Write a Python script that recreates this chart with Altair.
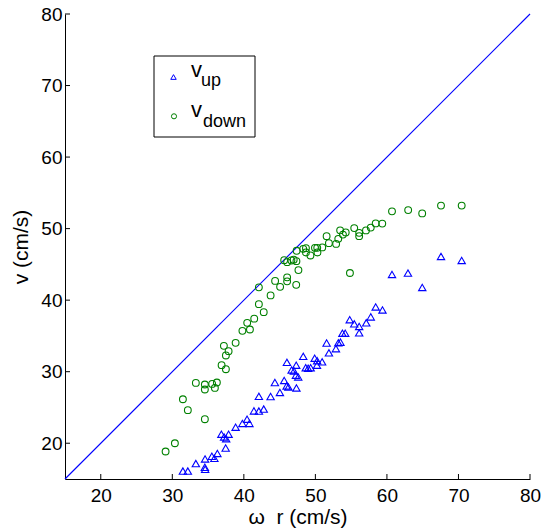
import altair as alt
import pandas as pd

# ---------------- data ----------------
up_x = [31.48, 32.17, 33.29, 34.58, 34.55, 34.59, 35.53, 35.88, 36.30, 37.46,
        36.86, 37.24, 37.53, 37.87, 38.85, 39.80, 40.45, 40.78, 41.41, 42.10,
        42.78, 42.10, 43.74, 44.34, 45.04, 45.64, 45.98, 46.23, 47.35, 46.02,
        46.68, 47.00, 47.32, 47.28, 47.60, 48.30, 48.65, 48.99, 49.34, 49.90,
        50.25, 50.94, 50.22, 51.57, 51.89, 52.87, 53.20, 53.50, 53.78, 54.17,
        54.80, 55.43, 56.12, 56.12, 57.11, 57.74, 58.43, 59.38, 60.71, 62.94,
        64.94, 67.56, 70.45]
up_y = [16.11, 16.11, 17.16, 17.80, 16.64, 16.36, 18.18, 17.90, 18.57, 19.33,
        21.26, 20.88, 20.63, 21.26, 22.24, 22.77, 23.36, 22.77, 24.52, 24.50,
        24.78, 26.55, 26.53, 28.49, 27.10, 28.77, 28.01, 27.87, 27.73, 31.30,
        30.24, 30.11, 30.91, 29.51, 29.27, 32.14, 30.56, 30.49, 30.56, 31.89,
        31.54, 31.37, 30.91, 34.01, 32.63, 33.22, 34.03, 34.13, 35.38, 35.38,
        37.27, 36.69, 36.32, 35.43, 36.83, 37.66, 39.05, 38.63, 43.59, 43.78,
        41.78, 46.11, 45.55]

down_x = [29.06, 30.36, 31.48, 32.17, 33.29, 34.55, 34.55, 34.55, 35.57, 36.23,
          35.95, 36.89, 37.49, 37.21, 37.87, 37.49, 38.85, 39.80, 40.85, 40.47,
          41.45, 42.10, 42.78, 42.10, 43.74, 44.37, 45.07, 46.05, 46.05, 47.32,
          47.63, 45.64, 46.05, 46.65, 46.97, 47.35, 47.38, 48.30, 48.68, 48.68,
          49.31, 49.94, 50.26, 50.29, 50.96, 51.57, 51.89, 52.90, 53.20, 53.46,
          53.85, 54.24, 55.43, 56.12, 56.12, 57.07, 57.74, 58.43, 59.35, 60.71,
          62.97, 64.93, 67.56, 70.45, 54.83]
down_y = [18.84, 20.00, 26.15, 24.62, 28.43, 28.21, 27.51, 23.36, 28.29, 28.49,
          27.73, 30.91, 30.35, 33.61, 32.87, 32.27, 34.03, 35.71, 35.90, 36.83,
          37.41, 39.44, 38.32, 41.79, 40.66, 42.69, 41.86, 43.19, 42.63, 42.14,
          44.20, 45.59, 45.31, 45.55, 45.66, 45.45, 46.90, 47.17, 47.27, 46.67,
          46.25, 47.31, 47.31, 46.67, 47.37, 48.95, 47.97, 47.86, 48.57, 49.76,
          49.16, 49.47, 50.07, 49.41, 48.95, 49.75, 50.14, 50.73, 50.70, 52.41,
          52.59, 52.13, 53.22, 53.22, 43.80]

diag_start = [15]
diag_end = [80]
tick_vals = [20, 30, 40, 50, 60, 70, 80]
legend_main = ["v", "v"]
legend_sub = ["up", "down"]
x_title = "\u03c9\u00a0\u00a0r (cm/s)"
y_title = "v (cm/s)"

# ---------------- chart ----------------
FONT = "Liberation Sans"
W = H = 465
BLUE = "#0000ff"
GREEN = "#008000"

df_up = pd.DataFrame({"x": up_x, "y": up_y})
df_down = pd.DataFrame({"x": down_x, "y": down_y})
df_diag = pd.DataFrame({"x": diag_start, "y": diag_start, "x2": diag_end, "y2": diag_end})
df_ticks = pd.DataFrame({"t": tick_vals})
one = pd.DataFrame({"k": [0]})

xs = alt.Scale(domain=[15, 80], nice=False, zero=False)
ys = alt.Scale(domain=[15, 80], nice=False, zero=False)

x_axis = alt.Axis(values=tick_vals, ticks=False, grid=False, labelFont=FONT,
                  labelFontSize=19, labelColor="black", labelPadding=7,
                  labelFlush=False, domainColor="black", domainWidth=1,
                  title=x_title, titleFont=FONT, titleFontSize=21,
                  titleFontWeight="normal", titleColor="black",
                  titleX=W / 2, titleY=44, titleBaseline="alphabetic",
                  titleAlign="center")
y_axis = alt.Axis(values=tick_vals, ticks=False, grid=False, labelFont=FONT,
                  labelFontSize=19, labelColor="black", labelPadding=3,
                  domainColor="black", domainWidth=1,
                  title=y_title, titleFont=FONT, titleFontSize=21,
                  titleFontWeight="normal", titleColor="black",
                  titleX=-37.5, titleY=H / 2, titleBaseline="alphabetic",
                  titleAlign="center")


def X(f):
    return alt.X(f + ":Q", scale=xs, axis=x_axis)


def Y(f):
    return alt.Y(f + ":Q", scale=ys, axis=y_axis)


diag = alt.Chart(df_diag).mark_rule(strokeWidth=1.15, stroke=BLUE).encode(
    x=X("x"), y=Y("y"), x2="x2:Q", y2="y2:Q", color=alt.value(BLUE))

ups = alt.Chart(df_up).mark_point(shape="triangle-up", filled=False, color=BLUE,
                                  size=54, strokeWidth=1.1, opacity=1).encode(x=X("x"), y=Y("y"))
downs = alt.Chart(df_down).mark_point(shape="circle", filled=False, color=GREEN,
                                      size=46, strokeWidth=1.1, opacity=1).encode(x=X("x"), y=Y("y"))

xticks = alt.Chart(df_ticks).mark_rule(color="black", strokeWidth=1).encode(
    x=X("t"), y=alt.value(H), y2=alt.value(H - 5))
yticks = alt.Chart(df_ticks).mark_rule(color="black", strokeWidth=1).encode(
    y=Y("t"), x=alt.value(0), x2=alt.value(5))

leg_box = alt.Chart(one).mark_rect(fill="white", stroke="black", strokeWidth=1).encode(
    x=alt.value(89), x2=alt.value(190), y=alt.value(42), y2=alt.value(123))
leg_tri = alt.Chart(one).mark_point(shape="triangle-up", filled=False, color=BLUE,
                                    size=30, strokeWidth=1, opacity=1).encode(
    x=alt.value(108.5), y=alt.value(63))
leg_cir = alt.Chart(one).mark_point(shape="circle", filled=False, color=GREEN,
                                    size=26, strokeWidth=1, opacity=1).encode(
    x=alt.value(109), y=alt.value(102.3))


def txt(s, x, y, size):
    return alt.Chart(one).mark_text(font=FONT, fontSize=size, align="left",
                                    baseline="alphabetic", color="black").encode(
        x=alt.value(x), y=alt.value(y), text=alt.value(s))


leg_texts = [
    txt(legend_main[0], 126, 63.3, 22),
    txt(legend_sub[0], 136, 72, 18),
    txt(legend_main[1], 126, 102.7, 22),
    txt(legend_sub[1], 138, 112.5, 18),
]

chart = alt.layer(diag, ups, downs, xticks, yticks, leg_box, leg_tri, leg_cir, *leg_texts).properties(
    width=W, height=H,
    autosize=alt.AutoSizeParams(type="none"),
    padding={"left": 65, "top": 14, "right": 13, "bottom": 52},
    background="white",
).configure_view(strokeWidth=0)

chart.save("out.html", embed_options={"renderer": "svg", "actions": False})
